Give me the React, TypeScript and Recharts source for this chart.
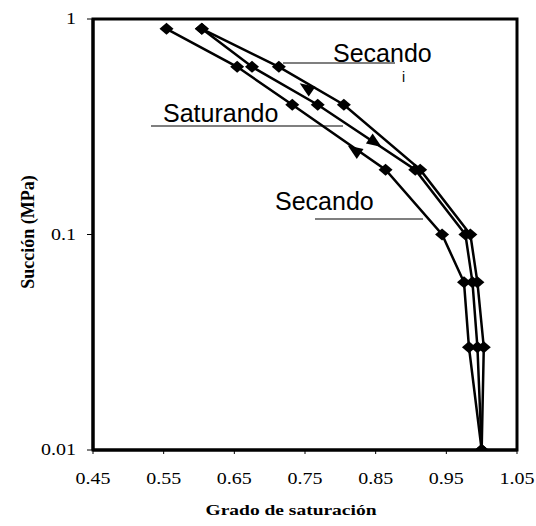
import { ComposedChart, ReferenceArea, Scatter, XAxis, YAxis } from "recharts";

// suction levels (MPa) shared by the three paths
const succion = [0.9, 0.6, 0.4, 0.2, 0.1, 0.06, 0.03, 0.01];

// degree of saturation
const secandoInicial = [0.554, 0.654, 0.732, 0.864, 0.944, 0.975, 0.982, 1.0];
const saturando = [0.604, 0.675, 0.768, 0.906, 0.977, 0.987, 0.994, 1.0];
const secandoFinal = [0.604, 0.713, 0.805, 0.913, 0.984, 0.994, 1.003, 1.0];

// direction arrows drawn on the paths
const flechaX = [0.821, 0.848, 0.753];
const flechaY = [0.245, 0.269, 0.477];
const flechaSentido = ["seca", "satura", "seca"];

const xTicks = [0.45, 0.55, 0.65, 0.75, 0.85, 0.95, 1.05];
const yTicks = [0.01, 0.1, 1];

const W = 536;
const H = 526;
const SERIF = "'Liberation Serif', 'Times New Roman', serif";
const SANS = "'Liberation Sans', Arial, sans-serif";

const toPoints = (xs: number[]) => xs.map((x, i) => ({ x, y: succion[i] }));
const flechas = flechaX.map((x, i) => ({ x, y: flechaY[i], dir: flechaSentido[i] }));

function Diamond(props: any) {
  const { cx, cy } = props;
  if (cx == null || cy == null) return null;
  return <polygon points={`${cx - 7},${cy} ${cx},${cy - 6} ${cx + 7},${cy} ${cx},${cy + 6}`} fill="#000" />;
}

function Arrow(props: any) {
  const { cx, cy, payload } = props;
  if (cx == null || cy == null) return null;
  // path direction on screen is roughly 34deg below horizontal
  const a = ((payload.dir === "seca" ? 214 : 34) * Math.PI) / 180;
  const ux = Math.cos(a);
  const uy = Math.sin(a);
  const tip = [cx + 9 * ux, cy + 9 * uy];
  const b1 = [cx - 6 * ux - 6 * uy, cy - 6 * uy + 6 * ux];
  const b2 = [cx - 6 * ux + 6 * uy, cy - 6 * uy - 6 * ux];
  return <polygon points={`${tip[0]},${tip[1]} ${b1[0]},${b1[1]} ${b2[0]},${b2[1]}`} fill="#000" />;
}

function XTick(props: any) {
  const { x, y, payload } = props;
  return (
    <g transform={`translate(${x},${y + 28})`}>
      <text textAnchor="middle" transform="scale(1.25,1)" fontFamily={SERIF} fontSize={16} fill="#000">
        {payload.value.toFixed(2)}
      </text>
    </g>
  );
}

function YTick(props: any) {
  const { x, y, payload } = props;
  return (
    <g transform={`translate(${x},${y + 5})`}>
      <text textAnchor="end" transform="scale(1.25,1)" fontFamily={SERIF} fontSize={16} fill="#000">
        {String(payload.value)}
      </text>
    </g>
  );
}

export default function App() {
  const lineStyle = { stroke: "#000", strokeWidth: 2.5 };
  return (
    <div style={{ position: "absolute", left: 0, top: 0, width: W, height: H, background: "#fff" }}>
      <ComposedChart width={W} height={H} margin={{ top: 19, right: 19, bottom: 0, left: 0 }}>
        <XAxis
          type="number"
          dataKey="x"
          domain={[0.45, 1.05]}
          ticks={xTicks}
          allowDataOverflow
          axisLine={{ stroke: "#000", strokeWidth: 3 }}
          tickLine={{ stroke: "#000" }}
          tickSize={4}
          tick={<XTick />}
          height={76}
        />
        <YAxis
          type="number"
          dataKey="y"
          scale="log"
          domain={[0.01, 1]}
          ticks={yTicks}
          allowDataOverflow
          axisLine={{ stroke: "#000", strokeWidth: 3 }}
          tickLine={{ stroke: "#000" }}
          tickSize={6}
          tickMargin={11}
          tick={<YTick />}
          width={93}
        />
        <ReferenceArea x1={0.45} x2={1.05} y1={0.01} y2={1} fill="none" stroke="#000" strokeWidth={3} ifOverflow="visible" />
        <Scatter data={toPoints(secandoInicial)} line={lineStyle} lineJointType="linear" shape={<Diamond />} isAnimationActive={false} />
        <Scatter data={toPoints(saturando)} line={lineStyle} lineJointType="linear" shape={<Diamond />} isAnimationActive={false} />
        <Scatter data={toPoints(secandoFinal)} line={lineStyle} lineJointType="linear" shape={<Diamond />} isAnimationActive={false} />
        <Scatter data={flechas} shape={<Arrow />} isAnimationActive={false} />
      </ComposedChart>
      <svg width={W} height={H} style={{ position: "absolute", left: 0, top: 0, pointerEvents: "none" }}>
        <g fontFamily={SANS} fontSize={25} fill="#000">
          <text x={333} y={62}>Secando</text>
          <text x={163} y={122}>Saturando</text>
          <text x={275} y={210}>Secando</text>
        </g>
        <g stroke="#000" strokeWidth={1.2}>
          <line x1={283} y1={63} x2={395} y2={63} />
          <line x1={151} y1={126} x2={343} y2={126} />
          <line x1={315} y1={219} x2={423} y2={219} />
        </g>
        <text x={402} y={82} fontFamily={SANS} fontSize={14} fill="#000">i</text>
        <text
          transform="translate(34,232) rotate(-90)"
          textAnchor="middle"
          fontFamily={SERIF}
          fontWeight="bold"
          fontSize={18}
          fill="#000"
        >
          Succión (MPa)
        </text>
        <g transform="translate(291,515)">
          <text textAnchor="middle" transform="scale(1.3,1)" fontFamily={SERIF} fontWeight="bold" fontSize={15} fill="#000">
            Grado de saturación
          </text>
        </g>
      </svg>
    </div>
  );
}
